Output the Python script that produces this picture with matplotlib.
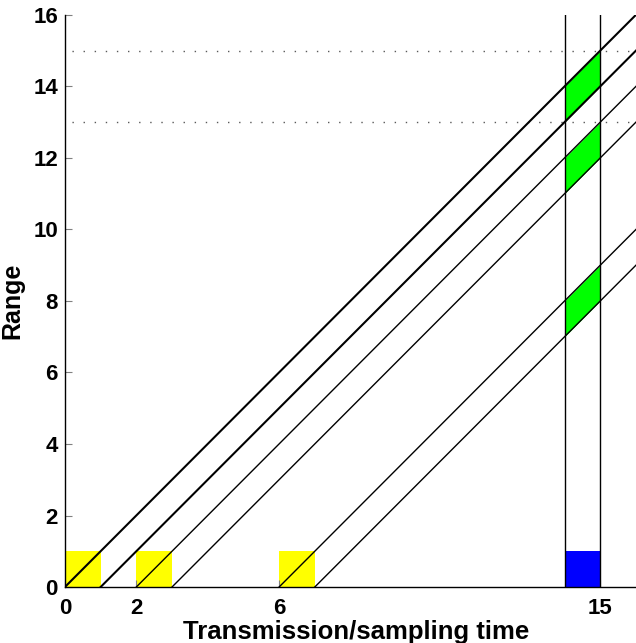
import numpy as np
import matplotlib as mpl
import matplotlib.pyplot as plt

mpl.rc('font', family='Liberation Sans', weight='bold')
plt.rcParams.update({'font.size': 16})

# pulse start times, pulse length, sampling window, range gate
pulseStarts = [0, 2, 6]
pulseLen = 1
sampleWin = [14, 15]
gateLevels = [13, 15]
xTicks = [0, 2, 6, 15]
yTicks = [0, 2, 4, 6, 8, 10, 12, 14, 16]
xMax = 16
yMax = 16

fig = plt.figure(figsize=(6.36, 6.43), dpi=100)
ax = fig.add_axes([0.102, 0.087, 0.898, 0.890])

# transmitted pulses (yellow) and sampling window (blue)
for t in pulseStarts:
    ax.fill_between([t, t + pulseLen], 0, 1, color=(1, 1, 0), lw=0, zorder=1)
ax.fill_between(sampleWin, 0, 1, color=(0, 0, 1), lw=0, zorder=1)

# green: the range that each pulse covers inside the sampling window
xs = np.array(sampleWin, dtype=float)
for t in pulseStarts:
    ax.fill_between(xs, xs - t - pulseLen, xs - t, color=(0, 1, 0), lw=0, zorder=1)

# leading and trailing edges of every pulse
for i, t in enumerate(pulseStarts):
    for e in [t, t + pulseLen]:
        lw = 1.5 if i == 0 else 1.0
        ax.plot([e, xMax], [0, xMax - e], color='k', lw=lw, zorder=3)

for xv in sampleWin:
    ax.plot([xv, xv], [0, yMax], color='k', lw=1.0, zorder=3)

for yv in gateLevels:
    ax.plot([0, xMax], [yv, yv], color='0.35', lw=1.0, ls=(3, (1, 7)), zorder=2)

ax.set_xlim(0, xMax)
ax.set_ylim(0, yMax)
ax.set_xticks(xTicks)
ax.set_yticks(yTicks)
ax.tick_params(direction='in', length=5, width=0.8, colors='0.5', labelcolor='k')
ax.tick_params(axis='x', pad=8)
ax.tick_params(axis='y', pad=5)
for s in ['top', 'right']:
    ax.spines[s].set_visible(False)
for s in ['left', 'bottom']:
    ax.spines[s].set_linewidth(1.0)
ax.set_xlabel('Transmission/sampling time', fontweight='bold', fontsize=18.5)
ax.set_ylabel('Range', fontweight='bold', fontsize=18)
ax.xaxis.set_label_coords(0.51, -0.058)
ax.yaxis.set_label_coords(-0.071, 0.5)

fig.savefig('out.png', dpi=100)
